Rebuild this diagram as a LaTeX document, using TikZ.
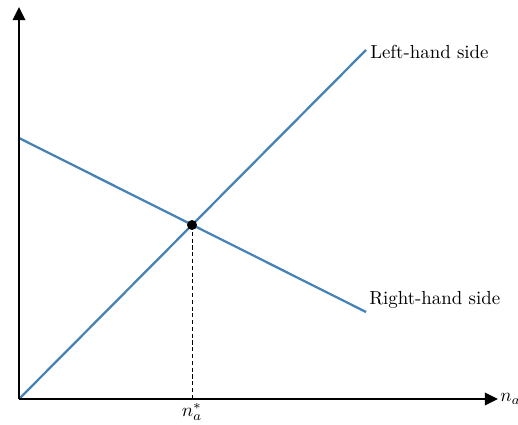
\documentclass[tikz,border=0pt]{standalone}
\usetikzlibrary{arrows.meta}
\definecolor{curve}{RGB}{70,130,180}
\begin{document}
\begin{tikzpicture}[x=0.53pt,y=-0.53pt,
  axis/.style={line width=1.5pt,-{Triangle[length=7pt,width=6.5pt]}},
  curveline/.style={draw=curve,line width=1.2pt},
  guide/.style={dash pattern=on 2.2pt off 1.4pt,line width=0.5pt},
  lbl/.style={inner sep=1pt}]
\useasboundingbox (0,0) rectangle (518,424);
\coordinate (O) at (19,399);
\coordinate (ytop) at (19,7);
\coordinate (xend) at (498,399);
\coordinate (lhs0) at (19,399);
\coordinate (lhs1) at (366,50);
\coordinate (rhs0) at (19,138);
\coordinate (rhs1) at (366,312);
\coordinate (eq) at (192,225);
\coordinate (eqx) at (192,398);
\draw[guide] (eq) -- (eqx);
\draw[curveline] (lhs0) -- (lhs1);
\draw[curveline] (rhs0) -- (rhs1);
\draw[axis] (O) -- (ytop);
\draw[axis] (O) -- (xend);
\fill (eq) circle[radius=5];
\node[lbl,anchor=west] (L) at (368,52) {Left-hand side};
\node[lbl,anchor=west] (R) at (367,300) {Right-hand side};
\node[lbl,anchor=west] (na) at (498,399) {$n_a$};
\node[lbl,anchor=north] (nas) at (192,401) {$n_a^*$};
\end{tikzpicture}
\end{document}
